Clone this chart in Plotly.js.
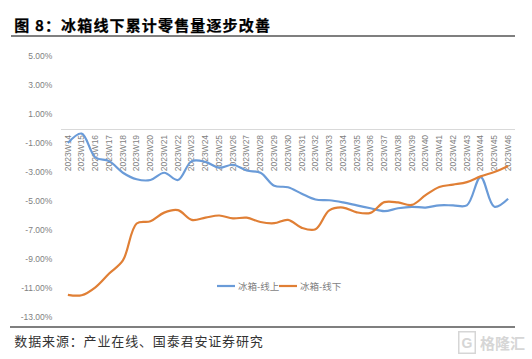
<!DOCTYPE html>
<html>
<head>
<meta charset="utf-8">
<script src="https://cdn.plot.ly/plotly-3.0.1.min.js"></script>
<style>
html,body{margin:0;padding:0;background:#fff}
#chart{width:532px;height:359px}
.annotation[data-index="0"] text{letter-spacing:1.15px;stroke:#000;stroke-width:0.25px}
.annotation[data-index="1"] text{letter-spacing:0.85px}
</style>
</head>
<body>
<div id="chart"></div>
<script>
var weeks = ["2023W14","2023W15","2023W16","2023W17","2023W18","2023W19","2023W20","2023W21","2023W22","2023W23","2023W24","2023W25","2023W26","2023W27","2023W28","2023W29","2023W30","2023W31","2023W32","2023W33","2023W34","2023W35","2023W36","2023W37","2023W38","2023W39","2023W40","2023W41","2023W42","2023W43","2023W44","2023W45","2023W46"];
var online = [-1.0,-0.35,-2.0,-2.25,-3.05,-3.5,-3.55,-3.05,-3.55,-2.25,-2.3,-2.7,-2.5,-2.9,-3.05,-3.95,-4.05,-4.5,-4.9,-4.95,-5.1,-5.3,-5.5,-5.7,-5.5,-5.4,-5.45,-5.3,-5.3,-5.3,-3.35,-5.4,-4.85];
var offline = [-11.47,-11.5,-10.95,-10.0,-9.1,-6.55,-6.4,-5.8,-5.63,-6.3,-6.15,-6.0,-6.2,-6.15,-6.45,-6.53,-6.3,-6.85,-6.95,-5.65,-5.45,-5.78,-5.82,-5.08,-5.1,-5.27,-4.6,-4.03,-3.87,-3.7,-3.3,-3.0,-2.58];
var yTickVals = [5,3,1,-1,-3,-5,-7,-9,-11,-13];
var yTickText = ["5.00%","3.00%","1.00%","-1.00%","-3.00%","-5.00%","-7.00%","-9.00%","-11.00%","-13.00%"];
var seriesNames = ["冰箱-线上","冰箱-线下"];
var titleText = "图 8\uFF1A冰箱线下累计零售量逐步改善";
var sourceText = "数据来源\uFF1A产业在线、国泰君安证券研究";
var watermark = "格隆汇";
var watermarkMark = "G";

var W = 532, H = 359, ml = 61, mr = 17, mt = 56, mb = 42;
var pw = W - ml - mr, ph = H - mt - mb;
function px(x){ return (x - ml) / pw; }
function py(y){ return (H - mb - y) / ph; }
var grey = "#7f7f7f", blue = "#6a9bd8", orange = "#e07f35";
var layout = {
  width: W, height: H,
  margin: {l: ml, r: mr, t: mt, b: mb},
  paper_bgcolor: "#fff", plot_bgcolor: "#fff",
  font: {family: "Liberation Sans, Arial, sans-serif", color: grey, size: 9},
  showlegend: false,
  xaxis: {
    type: "category", categoryorder: "array", categoryarray: weeks,
    range: [-0.5, 32.5],
    anchor: "free", position: 13/18,
    showline: true, linecolor: "#d9d9d9", linewidth: 1,
    showgrid: false, zeroline: false, ticks: "outside", ticklen: 2, tickcolor: "rgba(0,0,0,0)",
    tickangle: -90, tickfont: {size: 8.5, color: grey},
    tickmode: "array", tickvals: weeks, ticktext: weeks,
    layer: "below traces", automargin: false
  },
  yaxis: {
    range: [-13, 5], showgrid: false, zeroline: false, showline: false,
    ticks: "outside", ticklen: 6, tickcolor: "rgba(0,0,0,0)",
    tickmode: "array", tickvals: yTickVals, ticktext: yTickText,
    tickfont: {size: 8.5, color: grey}, automargin: false
  },
  shapes: [
    {type: "line", xref: "paper", yref: "paper", x0: px(11), x1: 1, y0: py(36), y1: py(36), line: {color: "#000", width: 1.2}},
    {type: "line", xref: "paper", yref: "paper", x0: px(10), x1: 1, y0: py(327), y1: py(327), line: {color: "#000", width: 1.2}},
    {type: "line", xref: "paper", yref: "paper", x0: px(217), x1: px(235), y0: py(286), y1: py(286), line: {color: blue, width: 2.2}},
    {type: "line", xref: "paper", yref: "paper", x0: px(279), x1: px(297), y0: py(286), y1: py(286), line: {color: orange, width: 2.2}}
  ],
  annotations: [
    {xref: "paper", yref: "paper", x: px(22), y: py(24.5), xanchor: "left", yanchor: "middle", showarrow: false,
     text: "<b>" + titleText + "</b>", font: {family: "Noto Sans CJK SC", size: 15, color: "#000"}},
    {xref: "paper", yref: "paper", x: px(20), y: py(340), xanchor: "left", yanchor: "middle", showarrow: false,
     text: sourceText, font: {family: "Noto Sans CJK SC", size: 13, color: "#333"}},
    {xref: "paper", yref: "paper", x: px(236), y: py(285.5), xanchor: "left", yanchor: "middle", showarrow: false,
     text: seriesNames[0], font: {family: "Noto Sans CJK SC", size: 9.5, color: grey}},
    {xref: "paper", yref: "paper", x: px(298), y: py(285.5), xanchor: "left", yanchor: "middle", showarrow: false,
     text: seriesNames[1], font: {family: "Noto Sans CJK SC", size: 9.5, color: grey}},
    {xref: "paper", yref: "paper", x: px(527), y: py(342), xanchor: "right", yanchor: "middle", showarrow: false,
     text: "<b>" + watermark + "</b>", font: {family: "Noto Sans CJK SC", size: 15, color: "#d6d6d6"}},
    {xref: "paper", yref: "paper", x: px(467), y: py(342), xanchor: "center", yanchor: "middle", showarrow: false,
     text: "<b>" + watermarkMark + "</b>", font: {family: "Liberation Sans", size: 14, color: "#d6d6d6"},
     bordercolor: "#d6d6d6", borderwidth: 1.5, borderpad: 2}
  ]
};
var traces = [
  {x: weeks, y: online, name: seriesNames[0], type: "scatter", mode: "lines", line: {color: blue, width: 2.2, shape: "spline", smoothing: 1}, hoverinfo: "skip"},
  {x: weeks, y: offline, name: seriesNames[1], type: "scatter", mode: "lines", line: {color: orange, width: 2.2, shape: "spline", smoothing: 1}, hoverinfo: "skip"}
];
Plotly.newPlot("chart", traces, layout, {displayModeBar: false, staticPlot: true});
</script>
</body>
</html>
